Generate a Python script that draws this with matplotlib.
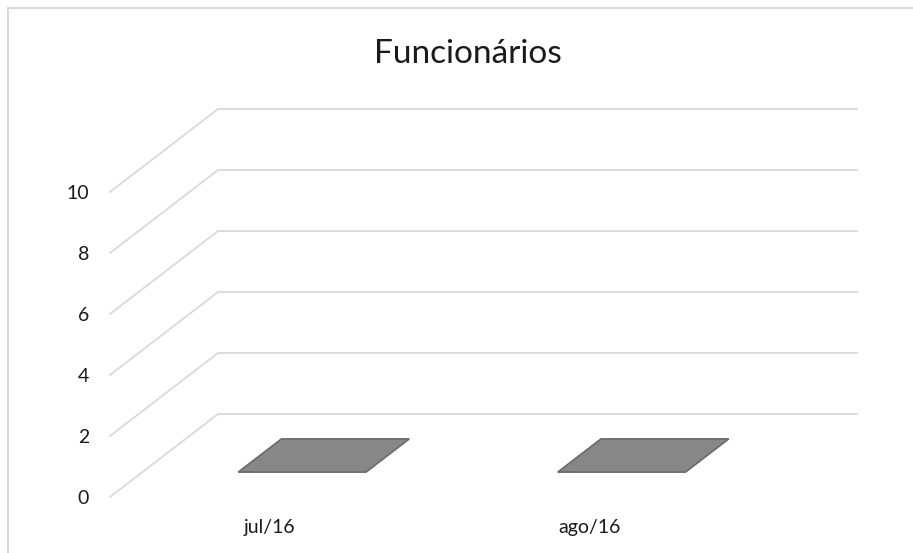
import matplotlib.pyplot as plt
from matplotlib.patches import Polygon, Rectangle

# Dados
categorias = ['jul/16', 'ago/16']
funcionarios = [0, 0]
yticks = [0, 2, 4, 6, 8, 10]
titulo = 'Funcionários'

plt.rcParams['font.family'] = ['Lato', 'DejaVu Sans']

W, H = 913, 553
fig = plt.figure(figsize=(W / 100, H / 100), dpi=100)

# plano frontal do grafico 3D (pixels)
left, right, bottom, top = 110, 749, 497, 192
ax = fig.add_axes([left / W, 1 - bottom / H, (right - left) / W, (bottom - top) / H])
ax.set_xlim(-0.5, len(categorias) - 0.5)
ax.set_ylim(0, 10)

# deslocamento de profundidade (108 px para a direita, 83 px para cima)
DX = 108 / ((right - left) / len(categorias))
DY = 83 / ((bottom - top) / 10)


def proj(x, y, d):
    return (x + DX * d, y + DY * d)


grid_color = '#d9d9d9'
x0, x1 = -0.5, len(categorias) - 0.5
for v in yticks:
    pts = [proj(x0, v, 0), proj(x0, v, 1), proj(x1, v, 1)]
    ax.plot([p[0] for p in pts], [p[1] for p in pts], color=grid_color,
            lw=1.3, clip_on=False, zorder=1)

# colunas 3D (valor zero -> so a face de cima)
largura = 0.4
d0, d1 = 0.3, 0.7
for i, val in enumerate(funcionarios):
    xa, xb = i - largura / 2, i + largura / 2
    faces = []
    if val > 0:
        faces.append(([proj(xa, 0, d0), proj(xb, 0, d0), proj(xb, val, d0), proj(xa, val, d0)], '#808080'))
        faces.append(([proj(xb, 0, d0), proj(xb, 0, d1), proj(xb, val, d1), proj(xb, val, d0)], '#6e6e6e'))
    faces.append(([proj(xa, val, d0), proj(xb, val, d0), proj(xb, val, d1), proj(xa, val, d1)], '#878787'))
    for pts, c in faces:
        ax.add_patch(Polygon(pts, closed=True, facecolor=c, edgecolor='#6a6a6a',
                             lw=1.2, clip_on=False, zorder=3))

for s in ax.spines.values():
    s.set_visible(False)
ax.set_yticks(yticks)
ax.set_xticks(range(len(categorias)))
ax.set_xticklabels(categorias)
ax.tick_params(axis='y', length=0, pad=15, labelsize=14, labelcolor='#1a1a1a')
ax.tick_params(axis='x', length=0, pad=16, labelsize=14, labelcolor='#1a1a1a')

fig.text(467.5 / W, 1 - 63 / H, titulo, ha='center', va='baseline',
         fontsize=24, color='#1a1a1a')

# borda do grafico
fig.patches.append(Rectangle((8 / W, -0.1), 1.2, 1 - 8 / H + 0.1, transform=fig.transFigure,
                             fill=False, edgecolor='#d9d9d9', lw=1.5))

fig.savefig('out.png', dpi=100)
